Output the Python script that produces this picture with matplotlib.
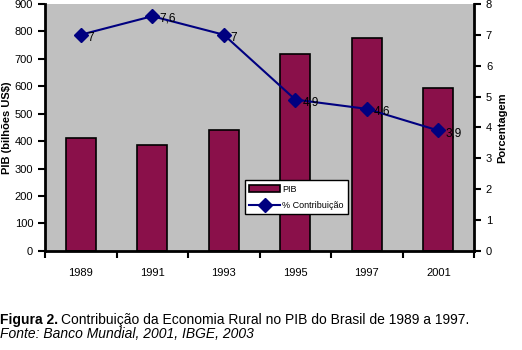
import matplotlib
matplotlib.use("Agg")
import matplotlib.pyplot as plt
import numpy as np

plt.rcParams['font.family'] = ['Liberation Sans', 'DejaVu Sans']

## DATOS ################################################################
anos = ["1989", "1991", "1993", "1995", "1997", "2001"]
pib = [412, 386, 440, 719, 775, 595]             # bilhões US$
contribuicao = [7, 7.6, 7, 4.9, 4.6, 3.9]         # %
rotulos = ["7", "7,6", "7", "4,9", "4,6", "3,9"]
#########################################################################

fig = plt.figure(figsize=(5.22, 3.5), dpi=100)
ax = fig.add_axes([0.0862, 0.283, 0.822, 0.706])
ax.set_facecolor("#C0C0C0")

x = np.arange(len(anos))
ax.bar(x, pib, width=0.42, color="#8A104A", edgecolor="black", linewidth=1.2,
       label="PIB", zorder=2)
ax.set_xlim(-0.5, len(anos) - 0.5)
ax.set_ylim(0, 900)
ax.set_yticks(np.arange(0, 901, 100))
# ticks mayores en los limites de categoria, etiquetas en el centro
ax.set_xticks(np.arange(-0.5, len(anos), 1.0))
ax.set_xticklabels([])
ax.set_xticks(x, minor=True)
ax.set_xticklabels(anos, minor=True)
ax.tick_params(axis="x", which="minor", length=0, pad=12, labelsize=8)
ax.tick_params(axis="x", which="major", direction="out", length=5, width=1.5)
ax.tick_params(axis="y", direction="out", length=5, width=1.5, labelsize=8)
ax.set_ylabel("PIB (bilhões US$)", fontsize=8, fontweight="bold", labelpad=2)

ax2 = ax.twinx()
ax2.plot(x, contribuicao, color="#000080", marker="D", markersize=7,
         linewidth=1.5, label="% Contribuição", zorder=3)
for xi, yi, t in zip(x, contribuicao, rotulos):
    ax2.annotate(t, (xi, yi), xytext=(5, -2), textcoords="offset points",
                 fontsize=8.5, va="center", ha="left", color="black")
ax2.set_ylim(0, 8)
ax2.set_yticks(np.arange(0, 9, 1))
ax2.tick_params(axis="y", direction="out", length=5, width=1.5, labelsize=8)
ax2.set_ylabel("Porcentagem", fontsize=8, fontweight="bold", labelpad=4)

for a in (ax, ax2):
    for s in a.spines.values():
        s.set_visible(False)
ax.spines["left"].set_visible(True)
ax.spines["left"].set_linewidth(2)
ax.spines["bottom"].set_visible(True)
ax.spines["bottom"].set_linewidth(2)
ax2.spines["right"].set_visible(True)
ax2.spines["right"].set_linewidth(2)

h1, l1 = ax.get_legend_handles_labels()
h2, l2 = ax2.get_legend_handles_labels()
leg = ax2.legend(h1 + h2, l1 + l2, loc="upper left",
                 bbox_to_anchor=(0.466, 0.287), fontsize=6.5, frameon=True,
                 fancybox=False, edgecolor="black", framealpha=1,
                 borderpad=0.5, handlelength=3.4, handletextpad=0.2,
                 labelspacing=0.8, borderaxespad=0)
leg.get_frame().set_linewidth(1)

# Leyenda de la figura
t1 = fig.text(0.0, 0.073, "Figura 2.", fontsize=10, fontweight="bold",
              ha="left", va="baseline")
fig.canvas.draw()
bb = t1.get_window_extent()
fig.text(bb.x1 / fig.bbox.width + 0.006, 0.073,
         "Contribuição da Economia Rural no PIB do Brasil de 1989 a 1997.",
         fontsize=10, ha="left", va="baseline")
fig.text(0.0, 0.035, "Fonte: Banco Mundial, 2001, IBGE, 2003", fontsize=10,
         style="italic", ha="left", va="baseline")

fig.savefig("out.png", dpi=100)
